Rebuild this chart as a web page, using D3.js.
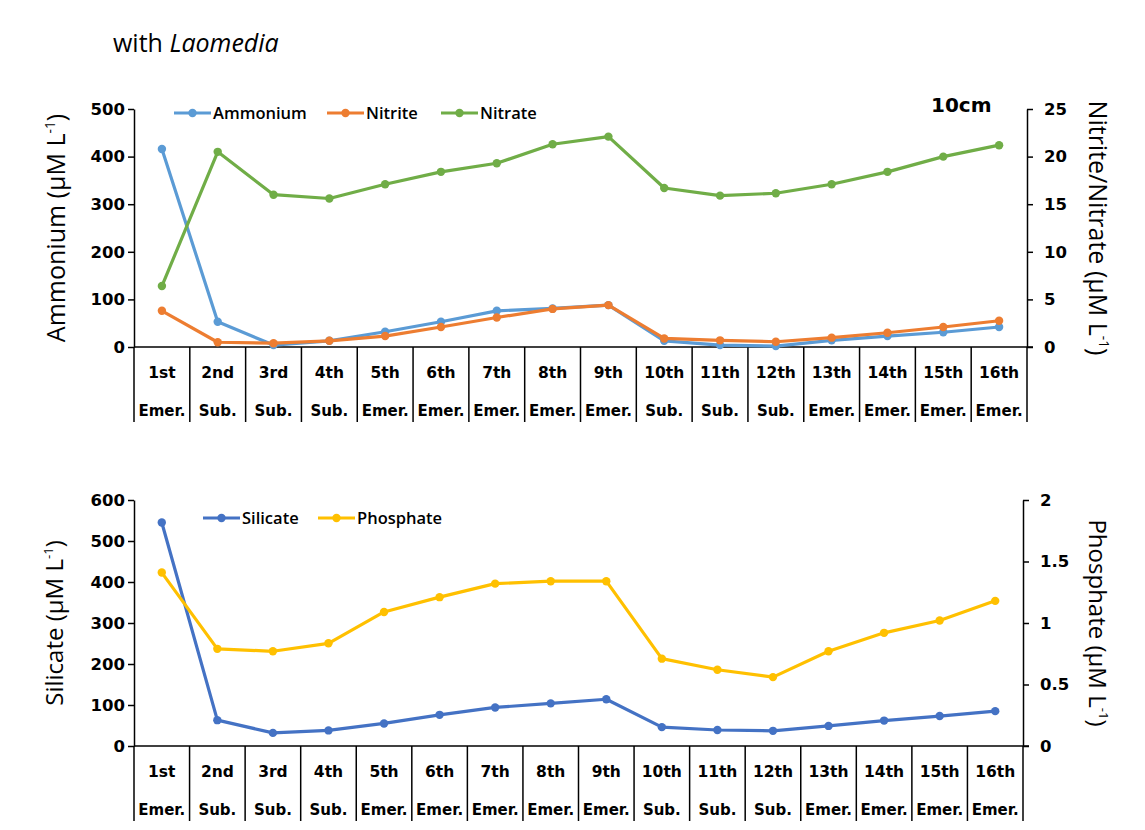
<!DOCTYPE html>
<html><head><meta charset="utf-8">
<script src="https://cdn.jsdelivr.net/npm/d3@7"></script>
<style>
body{margin:0;background:#fff;}
svg{display:block;}
text{fill:#000;}
</style></head>
<body>
<svg id="c" width="1145" height="830"></svg>
<script>
const events = ["1st","2nd","3rd","4th","5th","6th","7th","8th","9th","10th","11th","12th","13th","14th","15th","16th"];
const states = ["Emer.","Sub.","Sub.","Sub.","Emer.","Emer.","Emer.","Emer.","Emer.","Sub.","Sub.","Sub.","Emer.","Emer.","Emer.","Emer."];

const ammonium = [416,53,4,13,32,53,76,81,88,13,4,2,14,23,31,42];
const nitrite  = [3.8,0.5,0.4,0.65,1.15,2.1,3.1,4.0,4.4,0.9,0.7,0.55,0.98,1.5,2.1,2.76];
const nitrate  = [6.4,20.5,16.0,15.6,17.1,18.4,19.3,21.3,22.1,16.7,15.9,16.15,17.1,18.4,20.0,21.2];

const silicate  = [545,63,32,38,55,76,94,104,114,46,39,37,49,62,73,85];
const phosphate = [1.41,0.79,0.77,0.835,1.09,1.21,1.32,1.34,1.34,0.71,0.62,0.56,0.77,0.92,1.02,1.18];

const leftTicksTop = [0,100,200,300,400,500];
const rightTicksTop = [0,5,10,15,20,25];
const leftTicksBot = [0,100,200,300,400,500,600];
const rightTicksBot = [0,0.5,1,1.5,2];

const svg = d3.select("#c");
const FONT = "'DejaVu Sans', sans-serif";
const FONT2 = "'Open Sans', sans-serif";

svg.append("text").attr("x",113).attr("y",52).attr("font-family",FONT2).attr("font-size",25)
  .attr("font-weight",500)
  .html('with <tspan font-style="italic">Laomedia</tspan>');

function panel(o){
  const g = svg.append("g");
  const x = d3.scaleBand().domain(events).range([o.x0,o.x1]);
  const yl = d3.scaleLinear().domain(o.ldom).range([o.yb,o.yt]);
  const yr = d3.scaleLinear().domain(o.rdom).range([o.yb,o.yt]);
  const cx = d => x(d)+x.bandwidth()/2;

  const la = g.append("g").attr("transform",`translate(${o.x0},0)`)
    .call(d3.axisLeft(yl).tickValues(o.lticks).tickSize(6).tickSizeOuter(0).tickPadding(3).tickFormat(d3.format("")));
  const ra = g.append("g").attr("transform",`translate(${o.x1},0)`)
    .call(d3.axisRight(yr).tickValues(o.rticks).tickSize(6).tickSizeOuter(0).tickPadding(11).tickFormat(d=>String(d)));
  [la,ra].forEach(a=>{
    a.selectAll("path,line").attr("stroke","#000").attr("stroke-width",1.5);
    a.selectAll("text").attr("font-family",FONT).attr("font-weight","bold").attr("font-size",16.5).attr("fill","#000");
  });

  g.append("line").attr("x1",o.x0).attr("x2",o.x1+6).attr("y1",o.yb).attr("y2",o.yb)
    .attr("stroke","#000").attr("stroke-width",1.5);
  const bounds = events.map(e=>x(e)).concat([o.x1]);
  g.selectAll("line.div").data(bounds).enter().append("line")
    .attr("x1",d=>d).attr("x2",d=>d).attr("y1",o.yb).attr("y2",o.yb+75)
    .attr("stroke","#000").attr("stroke-width",1.5);
  g.selectAll("text.ev").data(events).enter().append("text")
    .attr("x",d=>cx(d)).attr("y",o.yb+31).attr("text-anchor","middle")
    .attr("font-family",FONT).attr("font-weight","bold").attr("font-size",15.5).text(d=>d);
  g.selectAll("text.st").data(states).enter().append("text")
    .attr("x",(d,i)=>cx(events[i])).attr("y",o.yb+69).attr("text-anchor","middle")
    .attr("font-family",FONT).attr("font-weight","bold").attr("font-size",15).text(d=>d);

  o.series.forEach(s=>{
    const sc = s.axis==="l"?yl:yr;
    const line = d3.line().x((d,i)=>cx(events[i])).y(d=>sc(d));
    g.append("path").datum(s.data).attr("d",line).attr("fill","none")
      .attr("stroke",s.color).attr("stroke-width",3.2).attr("stroke-linejoin","round");
    g.selectAll(null).data(s.data).enter().append("circle")
      .attr("cx",(d,i)=>cx(events[i])).attr("cy",d=>sc(d)).attr("r",4.2).attr("fill",s.color);
  });

  o.series.forEach(s=>{
    g.append("line").attr("x1",s.lx).attr("x2",s.lx+37).attr("y1",o.ly).attr("y2",o.ly)
      .attr("stroke",s.color).attr("stroke-width",3.2);
    g.append("circle").attr("cx",s.lx+18.5).attr("cy",o.ly).attr("r",4.2).attr("fill",s.color);
    g.append("text").attr("x",s.lx+39).attr("y",o.ly+6).attr("font-family",FONT2)
      .attr("font-size",16.5).attr("font-weight",600).text(s.name);
  });

  const ymid = (o.yt+o.yb)/2;
  const sup = ' (µM L<tspan dy="-10" font-size="'+(o.tfs*0.55)+'">-1</tspan><tspan dy="10">)</tspan>';
  g.append("text").attr("transform",`translate(${o.ltx},${ymid}) rotate(-90)`)
    .attr("text-anchor","middle").attr("font-family",FONT2).attr("font-size",o.tfs)
    .html(o.ltitle + sup);
  g.append("text").attr("transform",`translate(${o.rtx},${ymid}) rotate(90)`)
    .attr("text-anchor","middle").attr("font-family",FONT2).attr("font-size",o.tfs)
    .html(o.rtitle + sup);
  return g;
}

panel({
  x0:134, x1:1027, yt:109, yb:347,
  ldom:[0,500], rdom:[0,25], lticks:leftTicksTop, rticks:rightTicksTop,
  ly:113, ltx:65, rtx:1089, tfs:25,
  ltitle:"Ammonium", rtitle:"Nitrite/Nitrate",
  series:[
    {name:"Ammonium", data:ammonium, axis:"l", color:"#5B9BD5", lx:174},
    {name:"Nitrite", data:nitrite, axis:"r", color:"#ED7D31", lx:327},
    {name:"Nitrate", data:nitrate, axis:"r", color:"#70AD47", lx:441}
  ]
});
svg.append("text").attr("x",931).attr("y",112).attr("font-family",FONT).attr("font-weight","bold")
  .attr("font-size",20).text("10cm");

panel({
  x0:134, x1:1023, yt:500, yb:746,
  ldom:[0,600], rdom:[0,2], lticks:leftTicksBot, rticks:rightTicksBot,
  ly:518, ltx:63, rtx:1089, tfs:24,
  ltitle:"Silicate", rtitle:"Phosphate",
  series:[
    {name:"Silicate", data:silicate, axis:"l", color:"#4472C4", lx:203},
    {name:"Phosphate", data:phosphate, axis:"r", color:"#FFC000", lx:318}
  ]
});
</script>
</body></html>
